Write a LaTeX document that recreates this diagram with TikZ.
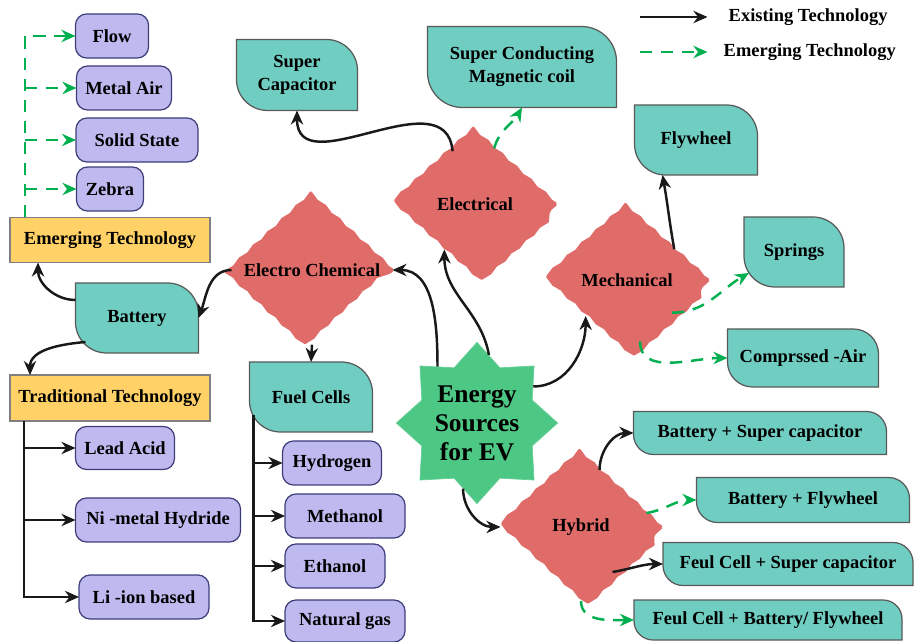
\documentclass[tikz,border=0pt]{standalone}
\usepackage{fontspec}
\setmainfont{Liberation Serif}
\usetikzlibrary{shapes.geometric,arrows.meta,decorations.pathmorphing,backgrounds}

\definecolor{leafteal}{HTML}{6FCDC1}
\definecolor{lilac}{HTML}{BEB9EE}
\definecolor{lilacline}{HTML}{3E3E7A}
\definecolor{techyellow}{HTML}{FFD166}
\definecolor{diamondred}{HTML}{E06C6A}
\definecolor{stargreen}{HTML}{4CC784}
\definecolor{emgreen}{HTML}{00B050}

\tikzset{
  every node/.style={font=\fontsize{10.5}{13}\selectfont\bfseries, align=center},
  leaf/.style={inner sep=0pt, outer sep=0pt},
  leafline/.style={fill=leafteal, draw=black!65, line width=0.7pt},
  sub/.style={draw=lilacline, fill=lilac, rounded corners=0.22cm, line width=0.7pt,
    inner sep=0pt, outer sep=0pt, minimum height=0.88cm},
  tech/.style={draw=black!50, fill=techyellow, line width=0.7pt, inner sep=0pt,
    outer sep=0pt, minimum width=4cm, minimum height=0.9cm},
  kind/.style={diamond, fill=diamondred, draw=diamondred, line width=1.6pt, line join=round,
    inner sep=0pt, outer sep=0pt,
    decorate, decoration={snake, amplitude=0.55pt, segment length=11pt}},
  exist/.style={line width=1.4pt, black!90, -{Stealth[length=8pt, width=7pt]}},
  emerge/.style={line width=1.4pt, emgreen, dash pattern=on 7pt off 5pt,
    -{Stealth[length=8pt, width=7pt]}},
}

\begin{document}
\begin{tikzpicture}
\useasboundingbox (0,0) rectangle (18.28,12.82);

% Legende
\coordinate (exA) at (12.8,12.48);
\coordinate (emA) at (12.8,11.78);
\node[anchor=west] (exlab) at (14.45,12.48) {Existing Technology};
\node[anchor=west] (emlab) at (14.35,11.78) {Emerging Technology};
\draw[exist] (exA) -- ([xshift=-0.3cm]exlab.west);
\draw[emerge] (emA) -- ([xshift=-0.2cm]emlab.west);

% Batterie links
\node[sub, minimum width=1.46cm] (flow) at (2.24,12.10) {Flow};
\node[sub, minimum width=1.9cm] (metal) at (2.48,11.06) {Metal Air};
\node[sub, minimum width=2.44cm] (solid) at (2.74,10.02) {Solid State};
\node[sub, minimum width=1.34cm] (zebra) at (2.20,9.04) {Zebra};
\node[tech] (emtech) at (2.20,8.02) {Emerging Technology};
\node[leaf, minimum width=2.46cm, minimum height=1.4cm] (bat) at (2.74,6.46) {Battery};
\node[tech, minimum height=0.92cm] (trad) at (2.20,4.86) {Traditional Technology};
\node[sub, minimum width=1.98cm, minimum height=0.86cm] (lead) at (2.50,3.86) {Lead Acid};
\node[sub, minimum width=3.3cm] (nimh) at (3.16,2.42) {Ni -metal Hydride};
\node[sub, minimum width=2.6cm] (liion) at (2.88,0.88) {Li -ion based};

% Brennstoffzellen
\node[leaf, minimum width=2.46cm, minimum height=1.4cm] (fuel) at (6.22,4.88) {Fuel Cells};
\node[sub, minimum width=1.98cm] (hyd) at (6.64,3.56) {Hydrogen};
\node[sub, minimum width=2.4cm] (meth) at (6.90,2.50) {Methanol};
\node[sub, minimum width=2.0cm] (eth) at (6.70,1.50) {Ethanol};
\node[sub, minimum width=2.4cm, minimum height=0.84cm] (ngas) at (6.90,0.40) {Natural gas};

% Kategorien
\node[kind, minimum width=3.22cm, minimum height=2.88cm] (ec) at (6.24,7.42) {Electro Chemical};
\node[kind, minimum width=3.24cm, minimum height=2.92cm] (elec) at (9.50,8.74) {Electrical};
\node[kind, minimum width=3.26cm, minimum height=2.92cm] (mech) at (12.54,7.22) {Mechanical};
\node[kind, minimum width=3.22cm, minimum height=2.96cm] (hyb) at (11.62,2.28) {Hybrid};
\node[star, star points=8, star point ratio=1.35, fill=stargreen, draw=stargreen!85!white,
  minimum size=3.2cm, inner sep=0pt, font=\fontsize{14.5}{16.5}\selectfont\bfseries]
  (ev) at (9.54,4.36) {Energy\\Sources\\for EV};

% Speicher
\node[leaf, minimum width=2.42cm, minimum height=1.42cm] (supcap) at (5.94,11.32) {Super\\Capacitor};
\node[leaf, minimum width=3.78cm, minimum height=1.62cm] (smes) at (10.44,11.48) {Super Conducting\\Magnetic coil};
\node[leaf, minimum width=2.46cm, minimum height=1.4cm] (fly) at (13.92,10.02) {Flywheel};
\node[leaf, minimum width=2.0cm, minimum height=1.4cm] (spr) at (15.88,7.78) {Springs};
\node[leaf, minimum width=3.02cm, minimum height=1.16cm] (comp) at (16.06,5.66) {Comprssed -Air};
\node[leaf, minimum width=5.06cm, minimum height=0.86cm] (bsc) at (15.20,4.16) {Battery + Super capacitor};
\node[leaf, minimum width=4.26cm, minimum height=0.9cm] (bf) at (16.06,2.82) {Battery + Flywheel};
\node[leaf, minimum width=5.0cm, minimum height=0.86cm] (fcsc) at (15.76,1.54) {Feul Cell + Super capacitor};
\node[leaf, minimum width=5.36cm, minimum height=0.8cm] (fcbf) at (15.36,0.42) {Feul Cell + Battery/ Flywheel};

% Blattform hinter den Knoten
\begin{scope}[on background layer]
\foreach \n/\r in {supcap/0.62, smes/0.7, fly/0.62, spr/0.62, comp/0.5, bat/0.62, fuel/0.62,
                   bsc/0.4, bf/0.42, fcsc/0.4, fcbf/0.38}
  \draw[leafline] (\n.north west) -- ([xshift=-\r cm]\n.north east)
    arc[start angle=90, end angle=0, radius=\r cm] -- (\n.south east)
    -- ([xshift=\r cm]\n.south west) arc[start angle=270, end angle=180, radius=\r cm] -- cycle;
\end{scope}

% Pfeile
\draw[exist] (ev.125) to[out=90, in=0] (ec.east);
\draw[exist] (ev.80) to[out=100, in=-90] (elec.236);
\draw[exist] (ev.33) to[out=0, in=-90] (mech.221);
\draw[exist] (ev.258) to[out=-90, in=180] (hyb.west);

\draw[exist] (elec.113) to[out=95, in=-90, looseness=1.2] (supcap.south);
\draw[emerge] (elec.71) to[out=75, in=-120] (smes.south);

\draw[exist] (ec.west) to[out=180, in=70] (bat.east);
\draw[exist] (ec.south) -- (fuel.north);
\draw[exist] ([yshift=0.36cm]bat.west) to[out=180, in=-90] ([xshift=0.56cm]emtech.south west);
\draw[exist] ([xshift=0.2cm,yshift=0.22cm]bat.south west) to[out=185, in=90] ([xshift=0.4cm]trad.north west);

\coordinate (eroot) at ([xshift=0.3cm]emtech.north west);
\draw[emerge] (eroot) |- (flow.west);
\foreach \b in {metal, solid, zebra}
  \draw[emerge] (eroot |- \b.west) -- (\b.west);

\coordinate (troot) at ([xshift=0.28cm]trad.south west);
\foreach \b in {lead, nimh, liion}
  \draw[exist] (troot) |- (\b.west);

\coordinate (froot) at ([xshift=0.08cm, yshift=0.34cm]fuel.south west);
\foreach \b in {hyd, meth, eth, ngas}
  \draw[exist] (froot) |- (\b.west);

\draw[exist] (mech.33) to[out=100, in=-80] ([xshift=0.56cm]fly.south west);
\draw[emerge] (mech.324) to[out=0, in=210] ([xshift=0.1cm,yshift=-0.42cm]spr.west);
\draw[emerge] (mech.282) to[out=-90, in=180] (comp.west);

\draw[exist] (hyb.72) to[out=90, in=180] (bsc.west);
\draw[emerge] (hyb.12) to[out=10, in=180] (bf.west);
\draw[exist] (hyb.305) to[out=10, in=180] (fcsc.west);
\draw[emerge] (hyb.south) to[out=-90, in=180] (fcbf.west);
\end{tikzpicture}
\end{document}
